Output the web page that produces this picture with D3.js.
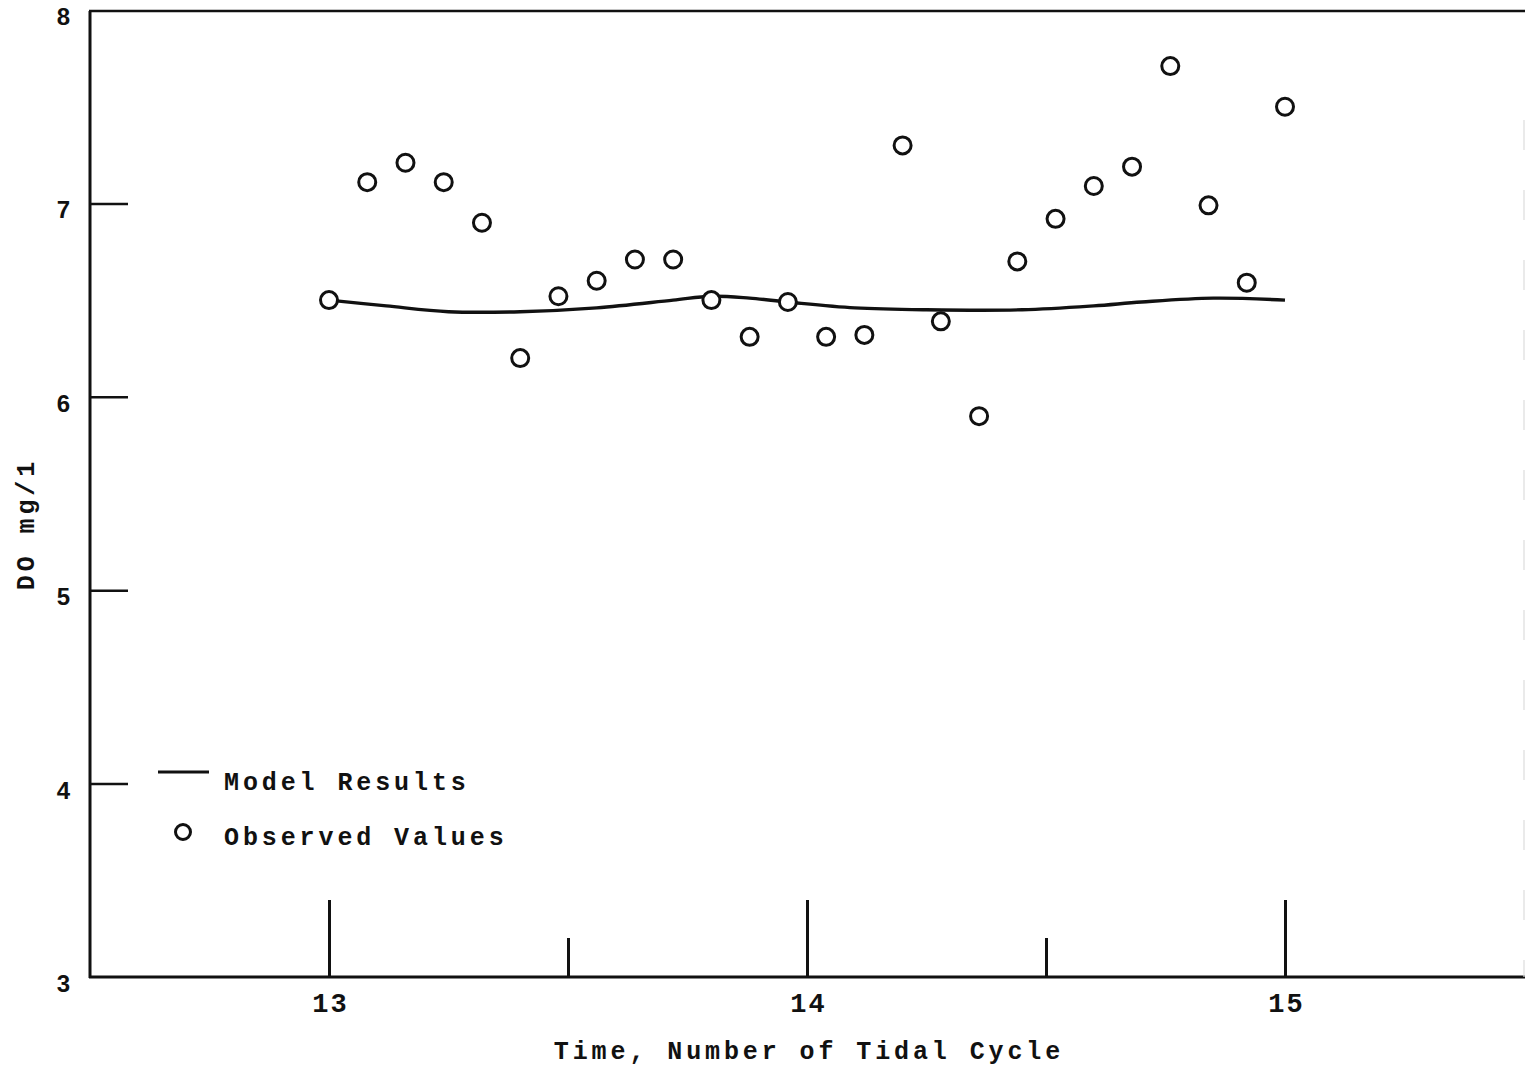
<!DOCTYPE html>
<html lang="en">
<head>
<meta charset="UTF-8">
<title>DO mg/1 vs tidal cycle</title>
<style>
  body { margin: 0; background: #fff; }
  svg { display: block; }
  .mono { font-family: "Liberation Mono", "DejaVu Sans Mono", monospace; font-weight: bold; fill: #111; }
  .ylab { font-family: "Liberation Sans", Arial, sans-serif; font-weight: bold; fill: #111; }
</style>
</head>
<body>
<svg id="svg" width="1525" height="1083"></svg>
<script src="https://cdn.jsdelivr.net/npm/d3@7"></script>
<script>
// observed DO values, one every 0.08 tidal cycle
const obsTime = [13.00, 13.08, 13.16, 13.24, 13.32, 13.40, 13.48, 13.56, 13.64, 13.72,
                 13.80, 13.88, 13.96, 14.04, 14.12, 14.20, 14.28, 14.36, 14.44, 14.52,
                 14.60, 14.68, 14.76, 14.84, 14.92, 15.00];
const obsDO = [6.50, 7.11, 7.21, 7.11, 6.90, 6.20, 6.52, 6.60, 6.71, 6.71,
               6.50, 6.31, 6.49, 6.31, 6.32, 7.30, 6.39, 5.90, 6.70, 6.92,
               7.09, 7.19, 7.71, 6.99, 6.59, 7.50];

// model curve
const modelTime = [13.00, 13.12, 13.25, 13.40, 13.56, 13.72, 13.80, 13.88, 13.96,
                   14.10, 14.25, 14.45, 14.60, 14.70, 14.85, 15.00];
const modelDO = [6.50, 6.47, 6.44, 6.44, 6.46, 6.50, 6.52, 6.51, 6.49,
                 6.46, 6.45, 6.45, 6.47, 6.49, 6.51, 6.50];

const yTicks = [3, 4, 5, 6, 7, 8];
const xMajor = [13, 14, 15];
const xMinor = [13.5, 14.5];

const svg = d3.select("#svg");
const mLeft = 90, mRight = 1524, mTop = 10, mBottom = 977;

const x = d3.scaleLinear().domain([12.5, 15.5]).range([mLeft, mRight]);
const y = d3.scaleLinear().domain([3, 8]).range([mBottom, mTop]);

// frame
svg.append("line").attr("x1", mLeft).attr("x2", mLeft).attr("y1", mTop + 1).attr("y2", mBottom + 1)
    .attr("stroke", "#111").attr("stroke-width", 3);
svg.append("line").attr("x1", mLeft - 1).attr("x2", 1525).attr("y1", mTop + 1).attr("y2", mTop + 1)
    .attr("stroke", "#111").attr("stroke-width", 2.5);
svg.append("line").attr("x1", mLeft - 1).attr("x2", 1525).attr("y1", mBottom).attr("y2", mBottom)
    .attr("stroke", "#111").attr("stroke-width", 3);
svg.append("line").attr("x1", 1524).attr("x2", 1524).attr("y1", mTop + 110).attr("y2", mBottom)
    .attr("stroke", "#ddd").attr("stroke-width", 1.2).attr("stroke-dasharray", "30,40");

// y axis: ticks pointing inward, labels outside
const yAxis = svg.append("g")
    .attr("transform", `translate(${mLeft},0)`)
    .call(d3.axisLeft(y).tickValues(yTicks).tickFormat(d3.format("d"))
        .tickSizeInner(-38).tickSizeOuter(0).tickPadding(20));
yAxis.select(".domain").remove();
yAxis.selectAll(".tick line").attr("stroke", "#111").attr("stroke-width", 2.5)
    .filter(d => d === 3 || d === 8).remove();
yAxis.selectAll(".tick text").attr("class", "ylab").attr("font-size", 24)
    .attr("dy", "0.6em").attr("text-anchor", "end");

// x axis: tall major ticks, short minor ticks, both rising from the bottom
const xAxis = svg.append("g")
    .attr("transform", `translate(0,${mBottom})`)
    .call(d3.axisBottom(x).tickValues(xMajor).tickFormat(d3.format("d"))
        .tickSizeInner(-77).tickSizeOuter(0).tickPadding(16));
xAxis.select(".domain").remove();
xAxis.selectAll(".tick line").attr("stroke", "#111").attr("stroke-width", 3);
xAxis.selectAll(".tick text").attr("class", "mono").attr("font-size", 27)
    .attr("letter-spacing", 2).attr("dx", 1);

const xMin = svg.append("g")
    .attr("transform", `translate(0,${mBottom})`)
    .call(d3.axisBottom(x).tickValues(xMinor).tickFormat("")
        .tickSizeInner(-39).tickSizeOuter(0));
xMin.select(".domain").remove();
xMin.selectAll(".tick line").attr("stroke", "#111").attr("stroke-width", 3);

// axis titles
svg.append("text").attr("class", "mono")
    .attr("x", x(14) + 2).attr("y", 1059)
    .attr("text-anchor", "middle").attr("font-size", 25).attr("letter-spacing", 3.9)
    .text("Time, Number of Tidal Cycle");
svg.append("text").attr("class", "mono")
    .attr("transform", "translate(34,524) rotate(-90)")
    .attr("text-anchor", "middle").attr("font-size", 25).attr("letter-spacing", 3.9)
    .text("DO mg/1");

// model line
const line = d3.line()
    .x((d, i) => x(modelTime[i]))
    .y(d => y(d))
    .curve(d3.curveCatmullRom.alpha(0.5));
svg.append("path").datum(modelDO)
    .attr("d", line)
    .attr("fill", "none").attr("stroke", "#111").attr("stroke-width", 3.4);

// observed circles
svg.append("g").selectAll("circle")
    .data(obsDO)
    .join("circle")
    .attr("cx", (d, i) => x(obsTime[i]))
    .attr("cy", d => y(d))
    .attr("r", 8.5)
    .attr("fill", "#fff").attr("stroke", "#111").attr("stroke-width", 3);

// legend
const lg = svg.append("g");
lg.append("line").attr("x1", 158).attr("x2", 209).attr("y1", 772).attr("y2", 772)
    .attr("stroke", "#111").attr("stroke-width", 3);
lg.append("text").attr("class", "mono").attr("x", 224).attr("y", 790)
    .attr("font-size", 25).attr("letter-spacing", 3.9).text("Model Results");
lg.append("circle").attr("cx", 183).attr("cy", 832).attr("r", 7.5)
    .attr("fill", "#fff").attr("stroke", "#111").attr("stroke-width", 3);
lg.append("text").attr("class", "mono").attr("x", 224).attr("y", 845)
    .attr("font-size", 25).attr("letter-spacing", 3.9).text("Observed Values");
</script>
</body>
</html>
